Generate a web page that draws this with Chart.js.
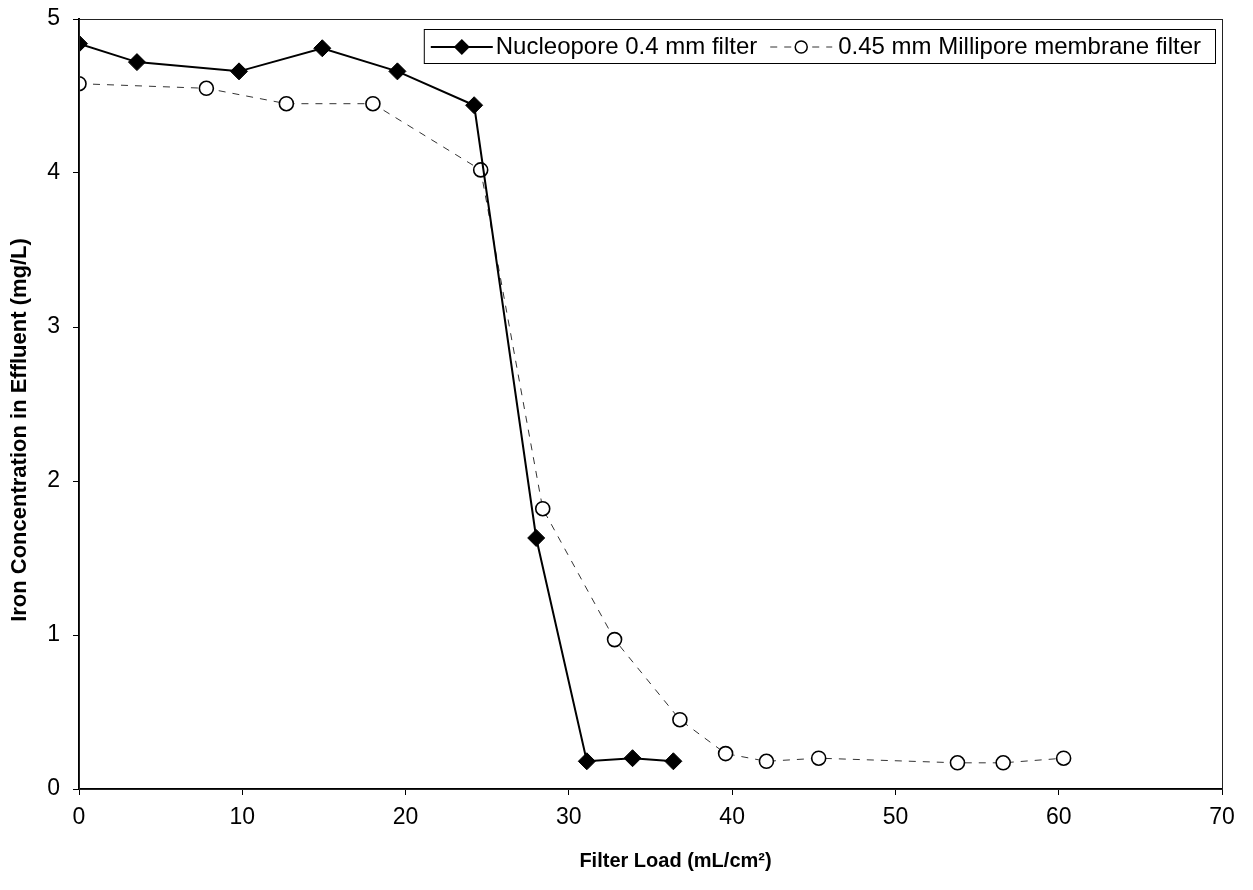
<!DOCTYPE html>
<html>
<head>
<meta charset="utf-8">
<script src="https://cdn.jsdelivr.net/npm/chart.js@4"></script>
<style>
  html, body { margin: 0; padding: 0; background: #fff; }
  #wrap { width: 1253px; height: 890px; }
</style>
</head>
<body>
<div id="wrap"><canvas id="iron"></canvas></div>
<script>
// filter load (mL/cm2) vs iron in effluent (mg/L)
const nucleoLoad = [0, 3.55, 9.8, 14.9, 19.5, 24.2, 28.0, 31.1, 33.9, 36.4];
const nucleoFe = [4.84, 4.72, 4.66, 4.81, 4.66, 4.44, 1.63, 0.18, 0.20, 0.18];
const milliLoad = [0, 7.8, 12.7, 18.0, 24.6, 28.4, 32.8, 36.8, 39.6, 42.1, 45.3, 53.8, 56.6, 60.3];
const milliFe = [4.58, 4.55, 4.45, 4.45, 4.02, 1.82, 0.97, 0.45, 0.23, 0.18, 0.20, 0.17, 0.17, 0.20];

const seriesNames = ['Nucleopore 0.4 mm filter', '0.45 mm Millipore membrane filter'];
const xTitle = 'Filter Load (mL/cm\u00B2)';
const yTitle = 'Iron Concentration in Effluent (mg/L)';

const FONT = "'Liberation Sans', Arial, sans-serif";

function toPoints(xs, ys) {
    return xs.map((x, i) => ({ x: x, y: ys[i] }));
}

// frame round the plot, axis titles (Excel puts them a bit off centre) and boxed legend
const framePlugin = {
    id: 'frame',
    afterDraw(chart) {
        const ctx = chart.ctx;
        const a = chart.chartArea;
        ctx.save();
        ctx.strokeStyle = '#222';
        ctx.lineWidth = 1;
        ctx.strokeRect(a.left + 0.5, a.top + 0.5, a.right - a.left, a.bottom - a.top);

        // axis titles
        ctx.fillStyle = '#000';
        ctx.textAlign = 'center';
        ctx.textBaseline = 'middle';
        ctx.font = 'bold 20px ' + FONT;
        ctx.fillText(xTitle, (a.left + a.right) / 2 + 25, a.bottom + 72);
        ctx.save();
        ctx.translate(20, (a.top + a.bottom) / 2 + 26);
        ctx.rotate(-Math.PI / 2);
        ctx.font = 'bold 22px ' + FONT;
        ctx.fillText(yTitle, 0, 0);
        ctx.restore();

        // legend
        ctx.font = '24px ' + FONT;
        const w1 = ctx.measureText(seriesNames[0]).width;
        const w2 = ctx.measureText(seriesNames[1]).width;
        const sample = 62;
        const boxW = 7 + sample + 3 + w1 + 13 + sample + 6 + w2 + 14;
        const boxH = 34;
        const bx = a.right - 7 - boxW;
        const by = a.top + 10;
        ctx.fillStyle = '#fff';
        ctx.fillRect(bx, by, boxW, boxH);
        ctx.strokeStyle = '#000';
        ctx.strokeRect(bx + 0.5, by + 0.5, boxW, boxH);
        const cy = by + boxH / 2 + 1;

        let x = bx + 7;
        ctx.lineWidth = 2;
        ctx.beginPath();
        ctx.moveTo(x, cy);
        ctx.lineTo(x + sample, cy);
        ctx.stroke();
        const dx = x + sample / 2;
        ctx.fillStyle = '#000';
        ctx.beginPath();
        ctx.moveTo(dx, cy - 8);
        ctx.lineTo(dx + 8, cy);
        ctx.lineTo(dx, cy + 8);
        ctx.lineTo(dx - 8, cy);
        ctx.closePath();
        ctx.fill();
        x += sample + 3;
        ctx.textBaseline = 'middle';
        ctx.textAlign = 'left';
        ctx.fillText(seriesNames[0], x, cy);
        x += w1 + 13;

        ctx.lineWidth = 1;
        ctx.strokeStyle = '#333';
        ctx.setLineDash([7, 7]);
        ctx.beginPath();
        ctx.moveTo(x, cy);
        ctx.lineTo(x + sample, cy);
        ctx.stroke();
        ctx.setLineDash([]);
        ctx.strokeStyle = '#000';
        ctx.lineWidth = 1.5;
        ctx.fillStyle = '#fff';
        ctx.beginPath();
        ctx.arc(x + sample / 2, cy, 6, 0, Math.PI * 2);
        ctx.fill();
        ctx.stroke();
        x += sample + 6;
        ctx.fillStyle = '#000';
        ctx.fillText(seriesNames[1], x, cy);
        ctx.restore();
    }
};

new Chart(document.getElementById('iron'), {
    type: 'scatter',
    data: {
        datasets: [{
            label: seriesNames[0],
            data: toPoints(nucleoLoad, nucleoFe),
            showLine: true,
            borderColor: '#000',
            borderWidth: 2,
            backgroundColor: '#000',
            pointStyle: 'rectRot',
            pointRadius: 8.5,
            pointHoverRadius: 8.5,
            pointBorderWidth: 1,
            order: 1
        }, {
            label: seriesNames[1],
            data: toPoints(milliLoad, milliFe),
            showLine: true,
            borderColor: '#333',
            borderWidth: 1,
            borderDash: [7, 7],
            backgroundColor: '#fff',
            pointBorderColor: '#000',
            pointBackgroundColor: '#fff',
            pointStyle: 'circle',
            pointRadius: 7,
            pointHoverRadius: 7,
            pointBorderWidth: 1.6,
            order: 2
        }]
    },
    options: {
        responsive: true,
        maintainAspectRatio: false,
        animation: false,
        layout: {
            padding: { left: 0, top: 19, right: 31, bottom: 0 }
        },
        scales: {
            x: {
                type: 'linear',
                min: 0,
                max: 70,
                afterFit: (scale) => {
                    scale.height = 101;
                    scale.paddingLeft = 0;
                    scale.paddingRight = 0;
                },
                ticks: {
                    stepSize: 10,
                    color: '#000',
                    padding: 9,
                    font: { family: FONT, size: 23 }
                },
                grid: {
                    drawOnChartArea: false,
                    drawTicks: true,
                    tickLength: 6,
                    color: '#000'
                },
                border: { color: '#000', width: 2 }
            },
            y: {
                min: 0,
                max: 5,
                afterFit: (scale) => {
                    scale.width = 79;
                    scale.paddingTop = 0;
                    scale.paddingBottom = 0;
                },
                ticks: {
                    stepSize: 1,
                    color: '#000',
                    padding: 13,
                    font: { family: FONT, size: 23 }
                },
                grid: {
                    drawOnChartArea: false,
                    drawTicks: true,
                    tickLength: 6,
                    color: '#000'
                },
                border: { color: '#000', width: 2 }
            }
        },
        plugins: {
            legend: { display: false },
            tooltip: { enabled: false }
        }
    },
    plugins: [framePlugin]
});
</script>
</body>
</html>
